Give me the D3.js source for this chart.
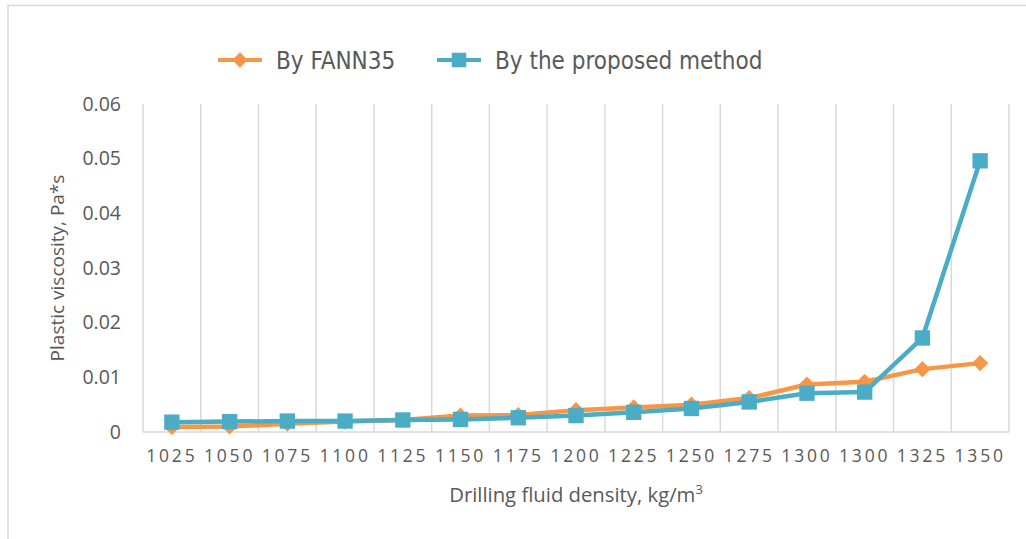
<!DOCTYPE html>
<html>
<head>
<meta charset="utf-8">
<script src="https://cdn.jsdelivr.net/npm/d3@7"></script>
<style>
  body { margin: 0; background: #fff; }
  svg { display: block; }
</style>
</head>
<body>
<div id="chart"></div>
<script>
// data
const densities = ['1025', '1050', '1075', '1100', '1125', '1150', '1175', '1200',
                   '1225', '1250', '1275', '1300', '1300', '1325', '1350'];
const fann35 = [0.0009, 0.001, 0.0015, 0.0019, 0.0022, 0.003, 0.0031, 0.004,
                0.0045, 0.005, 0.0062, 0.0087, 0.0092, 0.0115, 0.0126];
const proposed = [0.0018, 0.0019, 0.002, 0.002, 0.0022, 0.0023, 0.0026, 0.003,
                  0.0036, 0.0043, 0.0055, 0.0071, 0.0073, 0.0172, 0.0496];
const yTicks = [0, 0.01, 0.02, 0.03, 0.04, 0.05, 0.06];

const seriesList = [
  { name: 'By FANN35', values: fann35, color: '#F79646', symbol: d3.symbolDiamond2, size: 165 },
  { name: 'By the proposed method', values: proposed, color: '#4BACC6', symbol: d3.symbolSquare2, size: 300 }
];

const textFont = 'Open Sans, Liberation Sans, sans-serif';

// plot area
let config = { svg: {}, plot: {} };
config.svg.width = 1026;
config.svg.height = 539;
config.plot.left = 143;
config.plot.right = 1009;
config.plot.top = 104;
config.plot.bottom = 432;

const svg = d3.select('#chart').append('svg')
  .attr('width', config.svg.width)
  .attr('height', config.svg.height);

// outer frame (only top and left edges visible)
svg.append('path')
  .attr('d', 'M8,539V5.5H1026')
  .attr('fill', 'none')
  .attr('stroke', '#d9d9d9')
  .attr('stroke-width', 1.5);

const x = d3.scaleBand()
  .domain(d3.range(densities.length))
  .range([config.plot.left, config.plot.right]);
const y = d3.scaleLinear()
  .domain([0, 0.06])
  .range([config.plot.bottom, config.plot.top]);

// vertical gridlines at category boundaries
svg.append('g')
  .selectAll('line')
  .data(d3.range(densities.length + 1))
  .join('line')
  .attr('x1', d => config.plot.left + d * x.step())
  .attr('x2', d => config.plot.left + d * x.step())
  .attr('y1', config.plot.top)
  .attr('y2', config.plot.bottom)
  .attr('stroke', '#d9d9d9')
  .attr('stroke-width', 1.5);

// bottom axis line
svg.append('line')
  .attr('x1', config.plot.left).attr('x2', config.plot.right)
  .attr('y1', config.plot.bottom).attr('y2', config.plot.bottom)
  .attr('stroke', '#d9d9d9').attr('stroke-width', 1.5);

// y axis
const yAxis = d3.axisLeft(y).tickValues(yTicks).tickSize(0).tickPadding(22)
  .tickFormat(d => d === 0 ? '0' : d3.format('.2f')(d));
svg.append('g')
  .attr('transform', 'translate(' + config.plot.left + ',0)')
  .call(yAxis)
  .call(g => g.select('.domain').remove())
  .selectAll('text')
  .attr('fill', '#595959')
  .style('font-family', textFont)
  .style('font-size', '19.5px');

// x axis
const xAxis = d3.axisBottom(x).tickSize(0).tickPadding(18)
  .tickFormat(i => densities[i]);
svg.append('g')
  .attr('transform', 'translate(0,' + config.plot.bottom + ')')
  .call(xAxis)
  .call(g => g.select('.domain').remove())
  .selectAll('text')
  .attr('fill', '#595959')
  .style('font-family', textFont)
  .style('font-size', '17.5px')
  .style('letter-spacing', '2.8px');

// axis titles
svg.append('text')
  .attr('x', 576).attr('y', 502)
  .attr('text-anchor', 'middle')
  .attr('fill', '#595959')
  .style('font-family', textFont)
  .style('font-size', '20.3px')
  .text('Drilling fluid density, kg/m')
  .append('tspan')
  .attr('dy', -8)
  .style('font-size', '13px')
  .text('3');

svg.append('text')
  .attr('transform', 'translate(64,' + ((config.plot.top + config.plot.bottom) / 2) + ') rotate(-90)')
  .attr('text-anchor', 'middle')
  .attr('fill', '#595959')
  .style('font-family', textFont)
  .style('font-size', '19px')
  .text('Plastic viscosity, Pa*s');

// series
const line = d3.line()
  .x((d, i) => x(i) + x.bandwidth() / 2)
  .y(d => y(d));

seriesList.forEach(s => {
  svg.append('path')
    .datum(s.values)
    .attr('d', line)
    .attr('fill', 'none')
    .attr('stroke', s.color)
    .attr('stroke-width', 4.5)
    .attr('stroke-linejoin', 'round');
  svg.append('g')
    .selectAll('path')
    .data(s.values)
    .join('path')
    .attr('transform', (d, i) => 'translate(' + (x(i) + x.bandwidth() / 2) + ',' + y(d) + ')')
    .attr('d', d3.symbol().type(s.symbol).size(s.size))
    .attr('fill', s.color);
});

// legend
const legendX = [218, 437];
const legend = svg.append('g');
seriesList.forEach((s, k) => {
  const g = legend.append('g').attr('transform', 'translate(' + legendX[k] + ',60)');
  g.append('line').attr('x1', 0).attr('x2', 44)
    .attr('stroke', s.color).attr('stroke-width', 4);
  g.append('path')
    .attr('transform', 'translate(22,0)')
    .attr('d', d3.symbol().type(s.symbol).size(s.size * 0.9))
    .attr('fill', s.color);
  g.append('text')
    .attr('x', 58).attr('y', 9)
    .attr('fill', '#595959')
    .style('font-family', 'DejaVu Sans Condensed, sans-serif')
    .style('font-stretch', 'condensed')
    .style('font-size', '24px')
    .text(s.name);
});
</script>
</body>
</html>
